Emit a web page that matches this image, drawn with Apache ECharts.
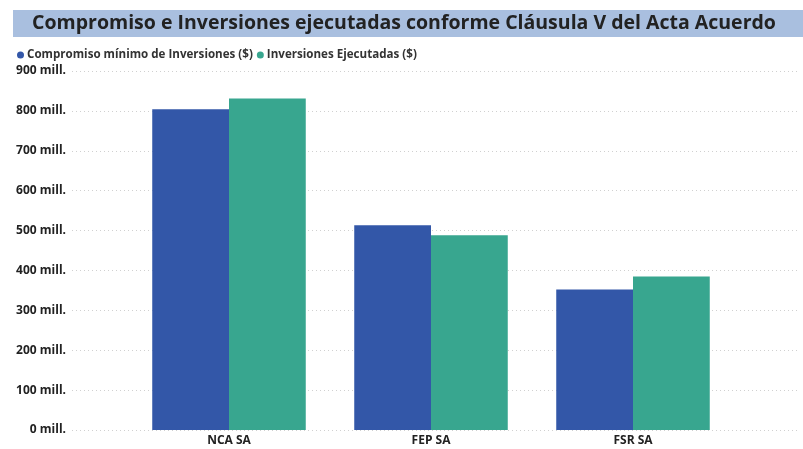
<!DOCTYPE html>
<html><head><meta charset="utf-8">
<script src="https://cdn.jsdelivr.net/npm/echarts@6/dist/echarts.min.js"></script>
<style>html,body{margin:0;padding:0;background:#fff}#c{width:803px;height:449px}</style>
</head><body><div id="c"></div>
<script>
const categories = ['NCA SA', 'FEP SA', 'FSR SA'];
const compromiso = [804, 513, 352];
const ejecutadas = [831, 488, 385];
const seriesNames = ['Compromiso mínimo de Inversiones ($)', 'Inversiones Ejecutadas ($)'];
const yTicks = [0, 100, 200, 300, 400, 500, 600, 700, 800, 900];
const titleText = 'Compromiso e Inversiones ejecutadas conforme Cláusula V del Acta Acuerdo';

const FONT = 'Open Sans';
const chart = echarts.init(document.getElementById('c'), null, {renderer: 'canvas'});
chart.setOption({
  animation: false,
  graphic: [
    {type: 'rect', shape: {x: 13, y: 10, width: 790, height: 27}, style: {fill: '#a9bfdf'}, z: 0},
    {type: 'text', x: 404, y: 23, style: {text: titleText, font: 'bold 19.5px "' + FONT + '"', fill: '#222', textAlign: 'center', textVerticalAlign: 'middle'}, z: 1}
  ],
  legend: {
    left: 12, top: 44, itemWidth: 7, itemHeight: 7, itemGap: 4, icon: 'circle',
    textStyle: {fontFamily: FONT, fontWeight: 'bold', fontSize: 11.6, color: '#333', padding: [0, 0, 0, -2]},
    data: seriesNames
  },
  grid: [
    {left: 72, right: 6, top: 71, bottom: 19},
    {left: 128, right: 69, top: 71, bottom: 19}
  ],
  xAxis: [
    {type: 'value', gridIndex: 0, show: false, min: 0, max: 1},
    {type: 'category', gridIndex: 1, data: categories,
     axisLine: {show: false}, axisTick: {show: false},
     axisLabel: {fontFamily: FONT, fontWeight: 'bold', fontSize: 12, color: '#222', margin: 5}}
  ],
  yAxis: [
    {type: 'value', gridIndex: 0, min: 0, max: 900, interval: 100,
     axisLine: {show: false}, axisTick: {show: false},
     axisLabel: {fontFamily: FONT, fontWeight: 'bold', fontSize: 12, color: '#222', margin: 6,
       formatter: v => yTicks.includes(v) ? v + ' mill.' : ''},
     splitLine: {show: true, lineStyle: {type: [1, 3], color: '#d0d0d0', width: 1}}},
    {type: 'value', gridIndex: 1, min: 0, max: 900, interval: 100, show: false, splitLine: {show: false}}
  ],
  series: [
    {name: seriesNames[0], type: 'bar', xAxisIndex: 1, yAxisIndex: 1, data: compromiso,
     itemStyle: {color: '#3357a8'}, barGap: '0%', barCategoryGap: '24%'},
    {name: seriesNames[1], type: 'bar', xAxisIndex: 1, yAxisIndex: 1, data: ejecutadas,
     itemStyle: {color: '#38a68f'}, barGap: '0%', barCategoryGap: '24%'}
  ]
});
</script></body></html>
